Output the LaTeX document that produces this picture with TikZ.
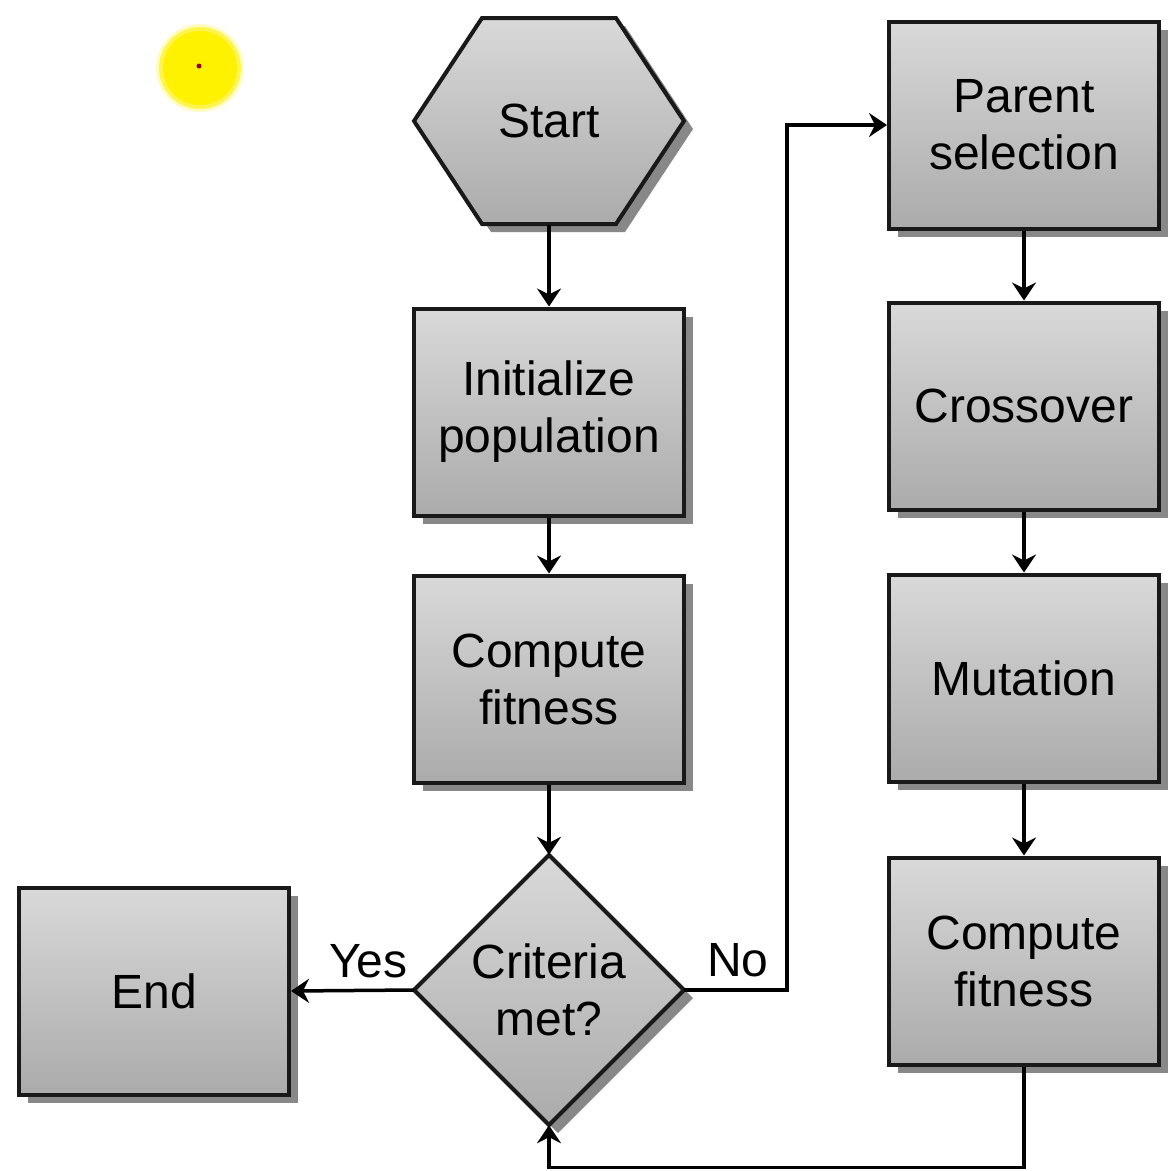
\documentclass[tikz,border=0pt]{standalone}
\usepackage{fontspec}
\setmainfont{Liberation Sans}
\usetikzlibrary{arrows.meta,shadows}
\begin{document}
\begin{tikzpicture}[x=1pt,y=-1pt,
  label font/.style={font=\fontsize{48}{57}\selectfont},
  stepbox/.style={draw=black!90, line width=4pt, top color=gray!30, bottom color=gray!66,
    minimum width=270pt, minimum height=207pt, inner sep=0pt, align=center, label font,
    drop shadow={shadow xshift=9pt, shadow yshift=-8pt, fill=black!55, opacity=0.85}},
  plain/.style={minimum width=270pt, minimum height=207pt, inner sep=0pt, align=center, label font},
  shapefill/.style={draw=black!90, line width=4pt, line join=miter, top color=gray!30, bottom color=gray!66},
  shapeshadow/.style={fill=black!55, opacity=0.85},
  arr/.style={line width=3.5pt, -{Stealth[length=18pt, width=24pt, inset=6pt]}},
  edgelabel/.style={label font, inner sep=11pt}]

\useasboundingbox (0,0) rectangle (1168,1171);

% cursor highlight
\fill[yellow!60, opacity=0.4] (200,68) circle (44);
\fill[yellow!90, opacity=0.7] (200,68) circle (41);
\fill[yellow] (200,68) circle (37);
\fill[red!60!black] (199,66) circle (2.5);

% start terminal (hexagon)
\node[plain] (start) at (549,121) {};
\fill[shapeshadow, xshift=9pt, yshift=-8pt]
  (414,121) -- (482,18) -- (616,18) -- (684,121) -- (616,224) -- (482,224) -- cycle;
\shade[shapefill]
  (414,121) -- (482,18) -- (616,18) -- (684,121) -- (616,224) -- (482,224) -- cycle;
\node[label font] at (start.center) {Start};

% left column
\node[stepbox] (init)  at (549,412) {Initialize\\population};
\node[stepbox] (comp1) at (549,679) {Compute\\fitness};

% decision (diamond)
\node[plain, minimum height=270pt] (crit) at (549,990) {};
\fill[shapeshadow, xshift=9pt, yshift=-8pt]
  (414,990) -- (549,855) -- (684,990) -- (549,1125) -- cycle;
\shade[shapefill]
  (414,990) -- (549,855) -- (684,990) -- (549,1125) -- cycle;
\node[label font, align=center] at (crit.center) {Criteria\\met?};

\node[stepbox] (end) at (154,991) {End};

% right column
\node[stepbox] (par)   at (1024,125) {Parent\\selection};
\node[stepbox] (cross) at (1024,406) {Crossover};
\node[stepbox] (mut)   at (1024,678) {Mutation};
\node[stepbox] (comp2) at (1024,961) {Compute\\fitness};

% connectors
\draw[arr] (start.south) -- (init.north);
\draw[arr] (init.south) -- (comp1.north);
\draw[arr] (comp1.south) -- (crit.north);
\draw[arr] (crit.west) -- node[edgelabel, above, pos=0.37] {Yes} (end.east);
\draw[arr] (crit.east) -- node[edgelabel, above, pos=0.52] {No} ++(103,0) |- (par.west);
\draw[arr] (par.south) -- (cross.north);
\draw[arr] (cross.south) -- (mut.north);
\draw[arr] (mut.south) -- (comp2.north);
\draw[arr] (comp2.south) -- ++(0,101) -| (crit.south);

\end{tikzpicture}
\end{document}
